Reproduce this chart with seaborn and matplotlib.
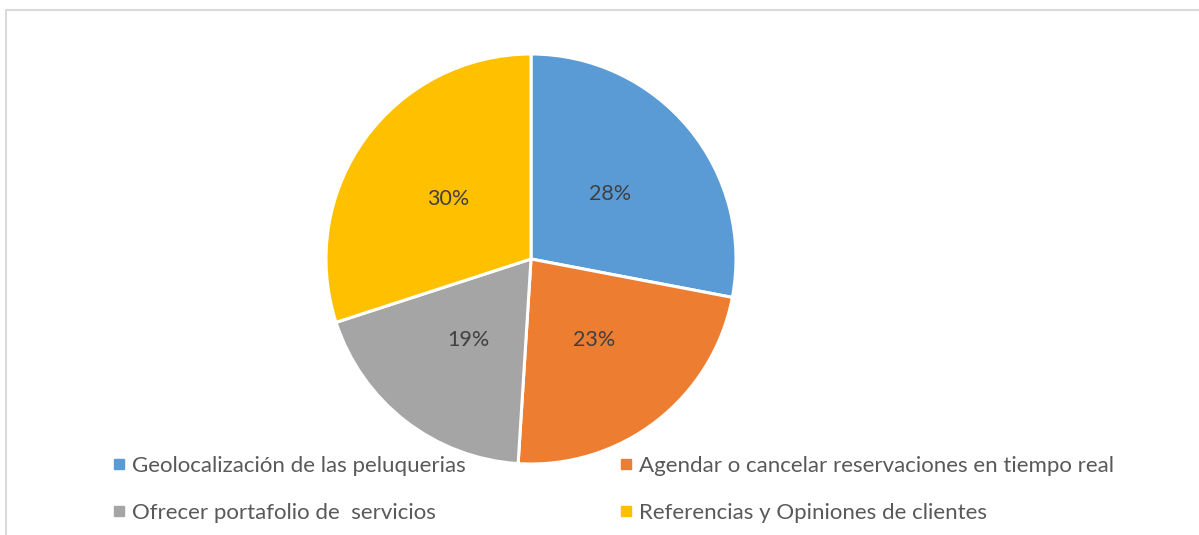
import matplotlib
matplotlib.use("Agg")
import matplotlib.pyplot as plt
from matplotlib.lines import Line2D
from matplotlib.patches import Rectangle
import seaborn as sns

# Share of each feature requested by respondents (percent)
categories = [
    "Geolocalización de las peluquerias",
    "Agendar o cancelar reservaciones en tiempo real",
    "Ofrecer portafolio de  servicios",
    "Referencias y Opiniones de clientes",
]
shares = [28, 23, 19, 30]
colors = sns.color_palette(["#5B9BD5", "#ED7D31", "#A5A5A5", "#FFC000"])

sns.set_theme(style="white")
plt.rcParams["font.family"] = ["Lato", "DejaVu Sans"]

W, H = 1199, 535
fig = plt.figure(figsize=(W / 100, H / 100), dpi=100)
fig.patch.set_facecolor("white")

# Pie axes: square in pixels, centred on the chart area
cx, cy, r = 531, 259, 205
ax = fig.add_axes([(cx - r) / W, (H - cy - r) / H, 2 * r / W, 2 * r / H])
wedges, texts, autotexts = ax.pie(
    shares,
    colors=colors,
    startangle=90,
    counterclock=False,
    autopct="%1.0f%%",
    pctdistance=0.5,
    wedgeprops=dict(edgecolor="white", linewidth=2.2),
    textprops=dict(color="#404040", fontsize=15.5),
)
ax.set_xlim(-1, 1)
ax.set_ylim(-1, 1)
ax.set_aspect("equal")
ax.axis("off")

# Light chart-area border
fig.add_artist(Rectangle((6 / W, -0.1), 1.2, (H - 10) / H + 0.1,
                         transform=fig.transFigure, fill=False,
                         edgecolor="#D9D9D9", linewidth=1.5, clip_on=False))

def handle(c):
    return Line2D([], [], linestyle="none", marker="s", markersize=6.5,
                  markerfacecolor=c, markeredgecolor=c)

legend_kw = dict(frameon=False, loc="upper left", fontsize=16,
                 handlelength=0.55, handletextpad=0.3, labelspacing=1.2,
                 borderpad=0, borderaxespad=0, labelcolor="#595959")

leg1 = fig.legend([handle(colors[0]), handle(colors[2])],
                  [categories[0], categories[2]],
                  bbox_to_anchor=(113 / W, 1 - 456 / H), **legend_kw)
leg2 = fig.legend([handle(colors[1]), handle(colors[3])],
                  [categories[1], categories[3]],
                  bbox_to_anchor=(620 / W, 1 - 456 / H), **legend_kw)

fig.savefig("out.png", dpi=100, facecolor="white")
